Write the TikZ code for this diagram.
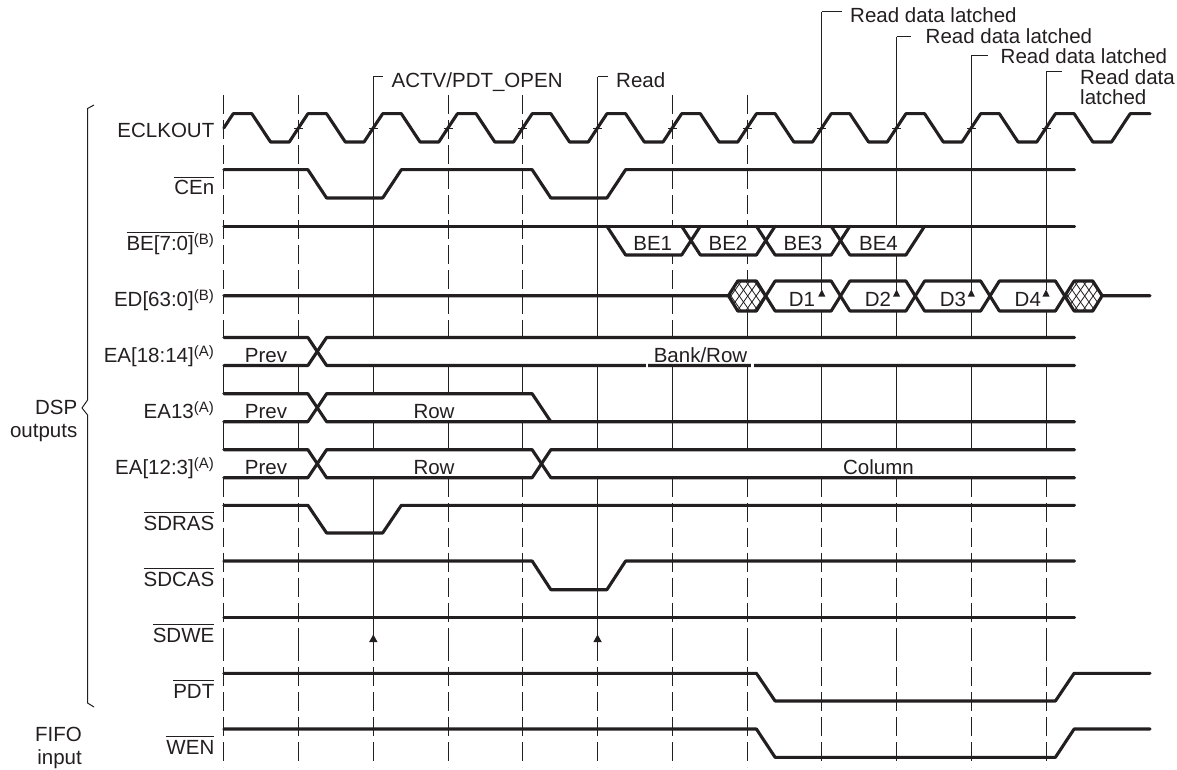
\documentclass[tikz,border=0pt]{standalone}
\usepackage{fontspec}
\setmainfont{Liberation Sans}
\definecolor{ink}{HTML}{231F20}
\newcommand\Kx[1]{223.8+74.75*#1}
\newcommand\Ka[1]{223.8+74.75*#1+9.35}
\newcommand\Kb[1]{223.8+74.75*#1+28.05}
\newcommand\Kc[1]{223.8+74.75*#1+18.7}
\newcommand\ovl[1]{\mbox{\vbox{\hrule height 0.9pt\kern 1.9pt\hbox{\vphantom{[}#1}}}}
\newcommand\supr[1]{\raisebox{6pt}{\fontsize{15}{15}\selectfont(#1)}}
\tikzset{
  sig/.style={draw=ink,line width=3.1pt,line cap=round,line join=round},
  thinline/.style={draw=ink,line width=1.1pt},
  dashline/.style={draw=ink,line width=1.1pt,dash pattern=on 19pt off 6pt},
  hatchline/.style={draw=ink,line width=0.8pt},
  tickline/.style={draw=ink,line width=0.7pt},
  mask/.style={fill=white,draw=none},
  txt/.style={text=ink,inner sep=0pt,font=\fontsize{20.5}{22}\selectfont},
  lab/.style={txt,anchor=base east},
  cen/.style={txt,anchor=base},
  wst/.style={txt,anchor=base west},
  tip/.style={fill=ink,draw=none}
}
\begin{document}
\begin{tikzpicture}[x=1pt,y=-1pt]
\useasboundingbox (0,0) rectangle (1177,770);
% grid lines, dashed and solid
\foreach \k in {0,1,3,4,6,7}{
  \draw[dashline] (\Kx{\k},95) -- (\Kx{\k},337.5);
}
\foreach \k in {0,...,11}{
  \draw[thinline] (\Kx{\k},365.5) -- (\Kx{\k},449.7);
  \draw[dashline] (\Kx{\k},642) -- (\Kx{\k},767);
}
\foreach \k in {0,1,3,4,6,7,8,9,10,11}{
  \draw[dashline] (\Kx{\k},477.7) -- (\Kx{\k},642);
}
\foreach \k in {2,5}{
  \draw[thinline] (\Kx{\k},477.7) -- (\Kx{\k},637);
  \draw[thinline] (\Kx{\k},76.7) -- (\Kx{\k},365.5);
  \draw[thinline] (\Kx{\k},76.7) -- +(10,0);
}
\foreach \k/\t/\w in {8/11.7/20,9/36.7/14,10/55.3/17,11/71.7/16}{
  \draw[thinline] (\Kx{\k},\t) -- (\Kx{\k},290);
  \draw[thinline] (\Kx{\k},311) -- (\Kx{\k},365.5);
  \draw[thinline] (\Kx{\k},\t) -- +(\w,0);
}
\draw[thinline] (\Kx{7},311) -- (\Kx{7},337.5);
% masks of the buses
\fill[mask] (222.2,337.5) rectangle (1074.6,365.5);
\fill[mask] (222.2,393.7) -- (\Ka{4},393.7) -- (\Kb{4},421.7) -- (222.2,421.7) -- cycle;
\fill[mask] (222.2,449.7) rectangle (1074.6,477.7);
\fill[mask] (\Ka{5},226) -- (\Kb{5},255) -- (\Ka{9},255) -- (\Kb{9},226) -- cycle;
\fill[mask] (728.4,295.7) -- (737.75,281) -- (1092.8,281) -- (1102.15,295.7) -- (1092.8,311) -- (737.75,311) -- cycle;
% lines that end on arrowheads inside the data cells
\foreach \k in {8,9,10,11}{
  \draw[thinline] (\Kx{\k},281) -- (\Kx{\k},290);
  \fill[tip] (\Kx{\k},289.5) -- ++(3.6,7.2) -- ++(-7.2,0) -- cycle;
}
\foreach \k in {2,5}{
  \fill[tip] (\Kx{\k},634.5) -- ++(4.2,7.5) -- ++(-8.4,0) -- cycle;
}
% clock
\draw[sig] (\Kx{0},128) \foreach \k in {0,...,11}{
  -- (\Ka{\k},113.7) -- (\Kb{\k},113.7)
  -- (\Kx{\k}+46.75,142) -- (\Kx{\k}+65.45,142)
} -- (\Ka{12},113.7) -- (1150,113.7);
\foreach \k in {1,...,11}{
  \draw[tickline] (\Kx{\k}-4.5,128) -- (\Kx{\k}+4.5,128);
}
% CEn
\draw[sig] (\Kx{0},169.7) -- (\Ka{1},169.7) -- (\Kb{1},198) -- (\Ka{2},198) -- (\Kb{2},169.7)
  -- (\Ka{4},169.7) -- (\Kb{4},198) -- (\Ka{5},198) -- (\Kb{5},169.7) -- (1074.6,169.7);
% BE
\draw[sig] (\Kx{0},226.2) -- (1074.6,226.2);
\draw[sig] (\Ka{5},226.2) -- (\Kb{5},255) -- (\Ka{6},255) -- (\Kb{6},226.2);
\draw[sig] (\Ka{6},226.2) -- (\Kb{6},255) -- (\Ka{7},255) -- (\Kb{7},226.2);
\draw[sig] (\Ka{7},226.2) -- (\Kb{7},255) -- (\Ka{8},255) -- (\Kb{8},226.2);
\draw[sig] (\Ka{8},226.2) -- (\Kb{8},255) -- (\Ka{9},255) -- (\Kb{9},226.2);
% ED hatching
\begin{scope}
  \clip (728.4,295.7) -- (737.75,281) -- (\Ka{7},281) -- (\Kc{7},295.7) -- (\Ka{7},311) -- (737.75,311) -- cycle;
  \foreach \q in {0,...,6}{
    \draw[hatchline] (712+8.4*\q,311) -- +(21,-30);
    \draw[hatchline] (733+8.4*\q,311) -- +(-21,-30);
  }
\end{scope}
\begin{scope}
  \clip (\Kc{11},295.7) -- (\Kb{11},281) -- (1092.8,281) -- (1102.15,295.7) -- (1092.8,311) -- (\Kb{11},311) -- cycle;
  \foreach \q in {0,...,6}{
    \draw[hatchline] (1049+8.4*\q,311) -- +(21,-30);
    \draw[hatchline] (1070+8.4*\q,311) -- +(-21,-30);
  }
\end{scope}
% ED
\draw[sig] (\Kx{0},295.7) -- (728.4,295.7) -- (737.75,281) -- (\Ka{7},281) -- (\Kb{7},311) -- (\Ka{8},311) -- (\Kb{8},281)
  -- (\Ka{9},281) -- (\Kb{9},311) -- (\Ka{10},311) -- (\Kb{10},281) -- (\Ka{11},281) -- (\Kb{11},311) -- (1092.8,311) -- (1102.15,295.7) -- (1150,295.7);
\draw[sig] (728.4,295.7) -- (737.75,311) -- (\Ka{7},311) -- (\Kb{7},281) -- (\Ka{8},281) -- (\Kb{8},311)
  -- (\Ka{9},311) -- (\Kb{9},281) -- (\Ka{10},281) -- (\Kb{10},311) -- (\Ka{11},311) -- (\Kb{11},281) -- (1092.8,281) -- (1102.15,295.7);
% EA[18:14]
\draw[sig] (\Kx{0},337.5) -- (\Ka{1},337.5) -- (\Kb{1},365.5) -- (1074.6,365.5);
\draw[sig] (\Kx{0},365.5) -- (\Ka{1},365.5) -- (\Kb{1},337.5) -- (1074.6,337.5);
\fill[mask] (646,363) rectangle (648.3,368);
\fill[mask] (751.3,363) rectangle (753.6,368);
% EA13
\draw[sig] (\Kx{0},393.7) -- (\Ka{1},393.7) -- (\Kb{1},421.7) -- (1074.6,421.7);
\draw[sig] (\Kx{0},421.7) -- (\Ka{1},421.7) -- (\Kb{1},393.7) -- (\Ka{4},393.7) -- (\Kb{4},421.7);
% EA[12:3]
\draw[sig] (\Kx{0},449.7) -- (\Ka{1},449.7) -- (\Kb{1},477.7) -- (\Ka{4},477.7) -- (\Kb{4},449.7) -- (1074.6,449.7);
\draw[sig] (\Kx{0},477.7) -- (\Ka{1},477.7) -- (\Kb{1},449.7) -- (\Ka{4},449.7) -- (\Kb{4},477.7) -- (1074.6,477.7);
% control lines
\draw[sig] (\Kx{0},505.3) -- (\Ka{1},505.3) -- (\Kb{1},533) -- (\Ka{2},533) -- (\Kb{2},505.3) -- (1074.6,505.3);
\draw[sig] (\Kx{0},561) -- (\Ka{4},561) -- (\Kb{4},589.7) -- (\Ka{5},589.7) -- (\Kb{5},561) -- (1074.6,561);
\draw[sig] (\Kx{0},617.7) -- (1074.6,617.7);
\draw[sig] (\Kx{0},673.3) -- (\Ka{7},673.3) -- (\Kb{7},701) -- (\Ka{11},701) -- (\Kb{11},673.3) -- (1150,673.3);
\draw[sig] (\Kx{0},729) -- (\Ka{7},729) -- (\Kb{7},757.3) -- (\Ka{11},757.3) -- (\Kb{11},729) -- (1150,729);
% brace
\draw[draw=ink,line width=1pt,line join=round] (94,105) -- (87.6,108.5) -- (87.6,400) -- (82,408) -- (87.6,415) -- (87.6,703) -- (94,707);
% signal names
\node[lab] (nclk) at (214.5,138) {ECLKOUT};
\node[lab] (nce) at (214.5,194.3) {\ovl{CEn}};
\node[lab] (nbe) at (214,250) {\ovl{BE[7:0]}\supr{B}};
\node[lab] (ned) at (214,306) {ED[63:0]\supr{B}};
\node[lab] (nea1) at (214,362.5) {EA[18:14]\supr{A}};
\node[lab] (nea2) at (214,418) {EA13\supr{A}};
\node[lab] (nea3) at (214,474.3) {EA[12:3]\supr{A}};
\node[lab] (nras) at (214.5,530) {\ovl{SDRAS}};
\node[lab] (ncas) at (214.5,586) {\ovl{SDCAS}};
\node[lab] (nwe) at (214.5,642) {\ovl{SDWE}};
\node[lab] (npdt) at (214.5,698) {\ovl{PDT}};
\node[lab] (nwen) at (214.5,754) {\ovl{WEN}};
\node[txt,anchor=north east,align=right] (ndsp) at (77.5,400) {DSP\\[0.5pt]outputs};
\node[txt,anchor=north east,align=right] (nfifo) at (82,727) {FIFO\\[0.5pt]input};
% bus contents
\node[cen] (p1) at (266,362.5) {Prev};
\node[cen] (p2) at (266,418) {Prev};
\node[cen] (p3) at (266,474.3) {Prev};
\node[cen] (r1) at (434,418) {Row};
\node[cen] (r2) at (434,474.3) {Row};
\node[cen] (bk) at (700.5,362.5) {Bank/Row};
\node[cen] (co) at (878.5,474.3) {Column};
\node[cen] (b1) at (652.7,250) {BE1};
\node[cen] (b2) at (728,250) {BE2};
\node[cen] (b3) at (803,250) {BE3};
\node[cen] (b4) at (878.5,250) {BE4};
\node[cen] (d1) at (802,306) {D1};
\node[cen] (d2) at (878,306) {D2};
\node[cen] (d3) at (953,306) {D3};
\node[cen] (d4) at (1027.8,306) {D4};
% callouts
\node[wst] (act) at (391.5,87.5) {ACTV/PDT\_OPEN};
\node[wst] (rd) at (616,87.5) {Read};
\node[wst] (l1) at (850,23) {Read data latched};
\node[wst] (l2) at (925.5,43.5) {Read data latched};
\node[wst] (l3) at (1000.5,63.5) {Read data latched};
\node[txt,anchor=north west,align=left] (l4) at (1080,69) {Read data\\[-2pt]latched};
\end{tikzpicture}
\end{document}
